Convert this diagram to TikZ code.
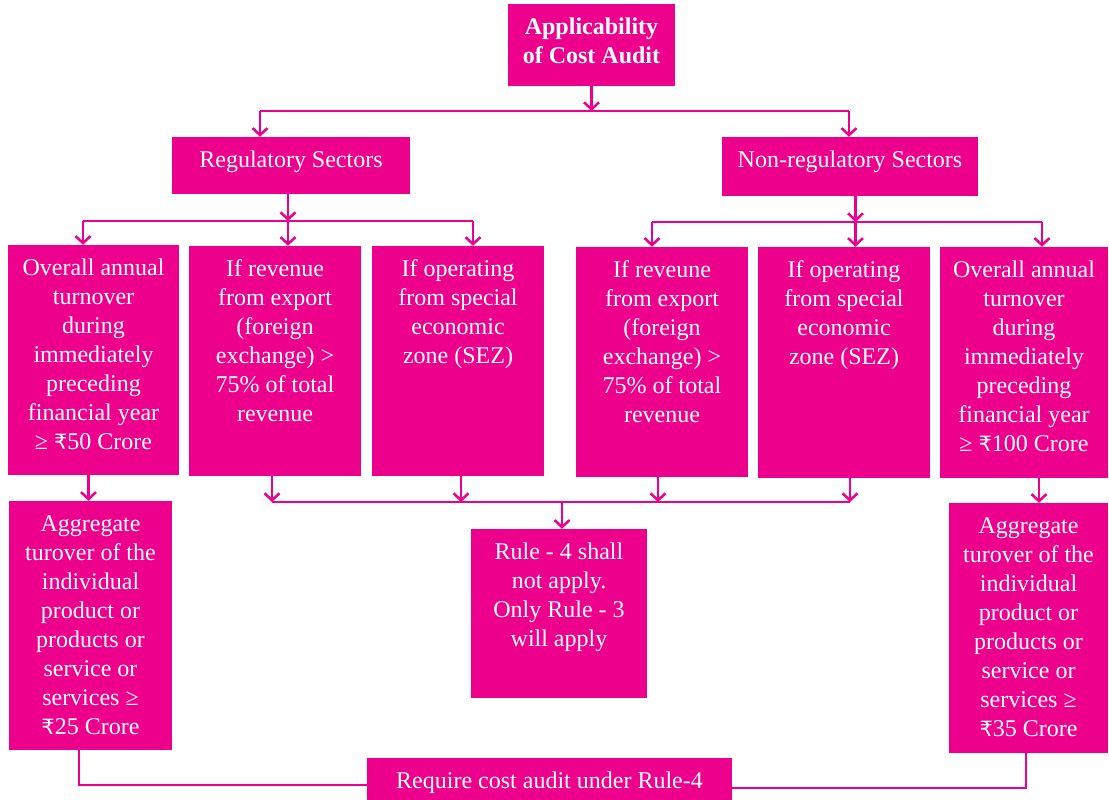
\documentclass[tikz,border=0pt]{standalone}
\usepackage{fontspec}
\setmainfont{Liberation Serif}
\newfontfamily\rupeefont{DejaVu Sans}
\usetikzlibrary{arrows.meta}
\definecolor{mag}{HTML}{EC008C}
\newcommand\rs{{\rupeefont\fontsize{21bp}{29bp}\selectfont ₹}}
\newcommand\bxt[3]{\parbox[c][#2][t]{#1}{\centering\rule{0pt}{30.5bp}#3\par}}
\begin{document}
\begin{tikzpicture}[x=1bp,y=-1bp,
  box/.style={fill=mag, inner sep=0pt, text=white, font=\fontsize{24bp}{29bp}\selectfont},
  conn/.style={draw=mag, line width=2.5bp},
  arr/.style={conn, -{Straight Barb[length=7bp,width=15bp]}}]
\useasboundingbox (0,0) rectangle (1109,800);

% nodes
\node[box] (top) at (591.5,45) {\bxt{167bp}{82bp}{\bfseries Applicability\\of Cost Audit}};
\node[box] (reg) at (291,165.5) {\bxt{238bp}{57bp}{Regulatory Sectors}};
\node[box] (nonreg) at (850,166.5) {\bxt{256bp}{59bp}{Non-regulatory Sectors}};

\node[box] (b1) at (93.5,360) {\bxt{171bp}{230bp}{Overall annual\\turnover\\during\\immediately\\preceding\\financial year\\≥ \rs50 Crore}};
\node[box] (b2) at (275,361) {\bxt{172bp}{230bp}{If revenue\\from export\\(foreign\\exchange) >\\75\% of total\\revenue}};
\node[box] (b3) at (458,361) {\bxt{172bp}{230bp}{If operating\\from special\\economic\\zone (SEZ)}};
\node[box] (b4) at (662,362) {\bxt{172bp}{230bp}{If reveune\\from export\\(foreign\\exchange) >\\75\% of total\\revenue}};
\node[box] (b5) at (844,362.5) {\bxt{172bp}{231bp}{If operating\\from special\\economic\\zone (SEZ)}};
\node[box] (b6) at (1024,362.5) {\bxt{168bp}{231bp}{Overall annual\\turnover\\during\\immediately\\preceding\\financial year\\≥ \rs100 Crore}};

\node[box] (agL) at (90.5,625.5) {\bxt{163bp}{249bp}{Aggregate\\turover of the\\individual\\product or\\products or\\service or\\services ≥\\\rs25 Crore}};
\node[box] (rule) at (559,613.5) {\bxt{176bp}{169bp}{Rule - 4 shall\\not apply.\\Only Rule - 3\\will apply}};
\node[box] (agR) at (1028.5,628) {\bxt{159bp}{250bp}{Aggregate\\turover of the\\individual\\product or\\products or\\service or\\services ≥\\\rs35 Crore}};
\node[box] (req) at (549.5,780) {\bxt{365bp}{44bp}{Require cost audit under Rule-4}};

% level 1
\coordinate (t1) at (591.5,111);
\coordinate (t1l) at (260,111);
\coordinate (t1r) at (849,111);
\draw[arr] (top.south) -- (t1);
\draw[conn] (t1l) -- (t1r);
\draw[arr] (t1l) -- (t1l |- reg.north);
\draw[arr] (t1r) -- (t1r |- nonreg.north);

% regulatory branch
\coordinate (r1) at (288,221);
\coordinate (r1l) at (83,221);
\coordinate (r1r) at (473,221);
\draw[arr] (r1 |- reg.south) -- (r1);
\draw[conn] (r1l) -- (r1r);
\draw[arr] (r1l) -- (r1l |- b1.north);
\draw[arr] (r1) -- (r1 |- b2.north);
\draw[arr] (r1r) -- (r1r |- b3.north);

% non-regulatory branch
\coordinate (n1) at (855.5,222);
\coordinate (n1l) at (652,222);
\coordinate (n1r) at (1042,222);
\draw[arr] (n1 |- nonreg.south) -- (n1);
\draw[conn] (n1l) -- (n1r);
\draw[arr] (n1l) -- (n1l |- b4.north);
\draw[arr] (n1) -- (n1 |- b5.north);
\draw[arr] (n1r) -- (n1r |- b6.north);

% to aggregate boxes
\draw[arr] ([xshift=-5bp]b1.south) -- ([xshift=-5bp]b1.south |- agL.north);
\draw[arr] ([xshift=15bp]b6.south) -- ([xshift=15bp]b6.south |- agR.north);

% merge to rule box
\coordinate (m1) at (272,502);
\coordinate (m2) at (850,502);
\coordinate (m0) at (562,502);
\draw[arr] ([xshift=-3bp]b2.south) -- ([xshift=-3bp]b2.south |- m1);
\draw[arr] ([xshift=3bp]b3.south) -- ([xshift=3bp]b3.south |- m1);
\draw[arr] ([xshift=-4bp]b4.south) -- ([xshift=-4bp]b4.south |- m1);
\draw[arr] ([xshift=6bp]b5.south) -- ([xshift=6bp]b5.south |- m1);
\draw[conn] (m1) -- (m2);
\draw[arr] (m0) -- (m0 |- rule.north);

% to bottom box
\draw[conn] ([xshift=-11.5bp]agL.south) |- ([yshift=-5bp]req.west);
\draw[conn] ([xshift=-2.5bp]agR.south) |- ([yshift=-8bp]req.east);
\end{tikzpicture}
\end{document}
